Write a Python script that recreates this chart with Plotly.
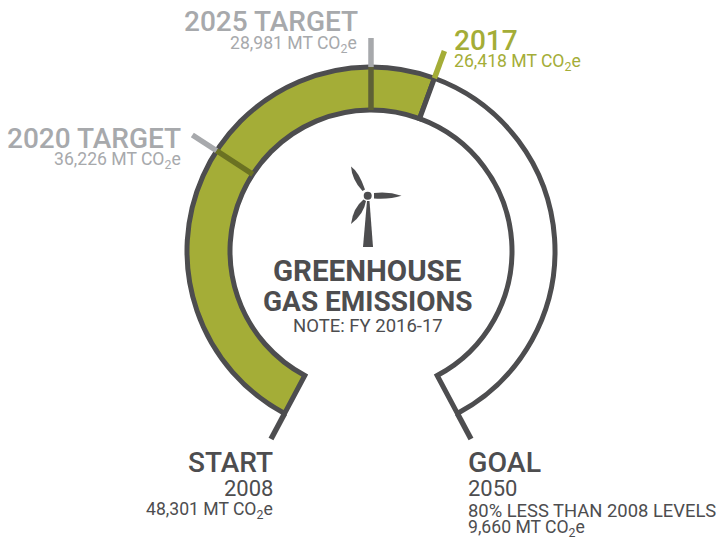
import plotly.graph_objects as go

W, H = 719, 542
CX, CY, R_MAX = 371, 251, 251
R_IN, R_OUT, R_TICK = 141, 184, 213
SWEEP = 304

start_value = 48301
goal_value = 9660
current_value = 26418
target_2020 = 36226
target_2025 = 28981

DARK = "#4d4d4f"
GREY = "#a7a9ac"
OLIVE = "#a4ad37"
FONT = "Roboto"


def angle(v):
    return (start_value - v) / (start_value - goal_value) * SWEEP - SWEEP / 2


def px(x):
    return x / W


def py(y):
    return 1 - y / H


a0, a1, a2 = angle(start_value), angle(current_value), angle(goal_value)

fig = go.Figure()
fig.add_trace(go.Barpolar(
    r=[R_OUT - R_IN, R_OUT - R_IN],
    base=[R_IN, R_IN],
    theta=[(a0 + a1) / 2, (a1 + a2) / 2],
    width=[a1 - a0, a2 - a1],
    marker=dict(color=[OLIVE, "white"], line=dict(color=DARK, width=5)),
    hoverinfo="skip",
))


def tick(v, r0, r1, color, width=5.5):
    fig.add_trace(go.Scatterpolar(
        r=[r0, r1], theta=[angle(v), angle(v)], mode="lines",
        line=dict(color=color, width=width), hoverinfo="skip",
    ))


tick(target_2025, R_OUT, R_TICK, GREY)
tick(target_2025, R_IN, R_OUT, "#5e6036")
tick(target_2020, R_OUT, R_TICK, GREY)
tick(target_2020, R_IN, R_OUT, "#6b7222")
tick(current_value, R_OUT, R_TICK, OLIVE)
tick(start_value, R_OUT, R_TICK, DARK)
tick(goal_value, R_OUT, R_TICK, DARK)


def path(cmds):
    out = []
    for c in cmds:
        if len(c) == 1:
            out.append(c[0])
        else:
            coords = " ".join(f"{px(c[i]):.5f},{py(c[i + 1]):.5f}" for i in range(1, len(c), 2))
            out.append(f"{c[0]} {coords}")
    return " ".join(out)


turbine = [
    [("M", 351, 166.5), ("Q", 352, 180, 362.5, 191), ("L", 365, 189.5), ("Q", 359, 172, 351, 166.5), ("Z",)],
    [("M", 401.5, 195.8), ("Q", 388, 191, 374, 193), ("L", 374, 198.5), ("Q", 390, 199.5, 401.5, 195.8), ("Z",)],
    [("M", 351, 224), ("Q", 364, 214, 366, 201), ("L", 363.5, 199.5), ("Q", 353, 208, 351, 224), ("Z",)],
    [("M", 367, 201), ("L", 369.5, 201), ("L", 373, 247), ("L", 363, 247), ("Z",)],
]
shapes = [dict(type="path", xref="paper", yref="paper", path=path(t), fillcolor=DARK,
               line=dict(width=0)) for t in turbine]
shapes.append(dict(type="circle", xref="paper", yref="paper",
                   x0=px(363.7), x1=px(371.7), y0=py(199.7), y1=py(191.7),
                   fillcolor=DARK, line=dict(width=0)))

labels = [
    ("2025 TARGET", 359, 21, "right", 28, GREY, 500),
    ("28,981 MT CO<sub>2</sub>e", 358, 44, "right", 17.6, GREY, 400),
    ("2017", 453, 41, "left", 28, OLIVE, 500),
    ("26,418 MT CO<sub>2</sub>e", 453, 63, "left", 17.6, OLIVE, 400),
    ("2020 TARGET", 182, 139, "right", 28, GREY, 500),
    ("36,226 MT CO<sub>2</sub>e", 182, 161, "right", 17.6, GREY, 400),
    ("GREENHOUSE", 367, 271, "center", 29.5, DARK, 700),
    ("GAS EMISSIONS", 368, 301, "center", 28, DARK, 700),
    ("NOTE: FY 2016-17", 368, 326, "center", 18.5, DARK, 400),
    ("START", 274, 462, "right", 28, DARK, 500),
    ("2008", 274, 488, "right", 22, DARK, 400),
    ("48,301 MT CO<sub>2</sub>e", 274, 510, "right", 17.6, DARK, 400),
    ("GOAL", 467, 462, "left", 28.5, DARK, 500),
    ("2050", 467, 488, "left", 22, DARK, 400),
    ("80% LESS THAN 2008 LEVELS", 467, 510, "left", 18.4, DARK, 400),
    ("9,660 MT CO<sub>2</sub>e", 467, 528, "left", 17.6, DARK, 400),
]
annotations = [dict(text=t, x=px(x), y=py(y), xref="paper", yref="paper", xanchor=a, yanchor="middle",
                    showarrow=False, borderpad=0,
                    font=dict(family=FONT, size=s, color=c, weight=wt))
               for t, x, y, a, s, c, wt in labels]

fig.update_layout(
    width=W, height=H, margin=dict(l=0, r=0, t=0, b=0), showlegend=False,
    paper_bgcolor="white", plot_bgcolor="white",
    polar=dict(
        domain=dict(x=[px(CX - R_MAX), px(CX + R_MAX)], y=[py(CY + R_MAX), py(CY - R_MAX)]),
        bgcolor="rgba(0,0,0,0)",
        radialaxis=dict(range=[0, R_MAX], visible=False),
        angularaxis=dict(visible=False, direction="clockwise", rotation=90, thetaunit="degrees"),
    ),
    shapes=shapes, annotations=annotations,
)
fig.write_html(
    "out.html",
    config=dict(displayModeBar=False),
    post_script="document.body.style.margin='0';document.body.style.overflow='hidden';",
)
